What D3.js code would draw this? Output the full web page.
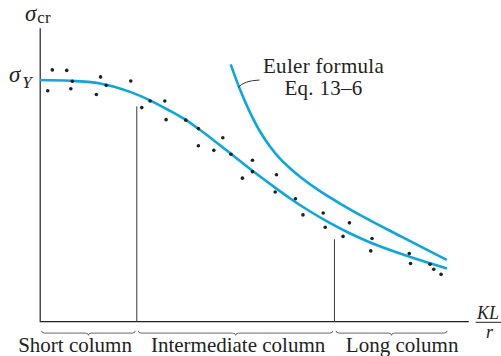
<!DOCTYPE html>
<html>
<head>
<meta charset="utf-8">
<script src="https://cdn.jsdelivr.net/npm/d3@7"></script>
<style>
  html, body { margin: 0; padding: 0; background: #fff; }
  svg { display: block; }
</style>
</head>
<body>
<svg id="chart" width="501" height="356"></svg>
<script>
// Slenderness ratio KL/r (x) and stress relative to yield σ/σY (y)
const xMax = 200;
const yMax = 1.2166;

// Test results (scatter)
const testKL = [5.75, 12.48, 3.60, 15.09, 14.39, 28.27, 30.93, 26.31, 42.38, 47.52,
  51.40, 58.27, 58.88, 68.08, 73.97, 73.97, 81.17, 85.37, 89.16, 94.53,
  99.21, 99.21, 110.42, 109.81, 119.30, 122.80, 132.24, 133.18, 144.49, 141.50,
  155.05, 154.44, 172.43, 173.04, 182.15, 183.88, 187.29];
const testStress = [1.042, 1.040, 0.956, 0.995, 0.964, 1.013, 0.978, 0.940, 0.996, 0.886,
  0.913, 0.913, 0.836, 0.834, 0.799, 0.728, 0.709, 0.761, 0.693, 0.594,
  0.668, 0.621, 0.608, 0.537, 0.509, 0.442, 0.450, 0.391, 0.409, 0.353,
  0.344, 0.293, 0.282, 0.241, 0.238, 0.217, 0.196];

// Curve fitted through the test results
const fitKL = [0, 14.02, 28.04, 42.06, 51.4, 60.75, 68.08, 74.77, 81.78, 89.11,
  98.13, 107.48, 116.82, 126.17, 135.51, 144.86, 154.21, 168.22, 190.05];
const fitStress = [1.0, 0.997, 0.986, 0.951, 0.916, 0.872, 0.835, 0.793, 0.746, 0.695,
  0.632, 0.570, 0.510, 0.456, 0.408, 0.365, 0.328, 0.282, 0.220];

// Euler formula curve
const eulerKL = [89.05, 93.39, 98.06, 102.73, 107.40, 112.07, 116.74, 121.41, 130.75, 140.09, 154.10, 168.11, 189.91];
const eulerStress = [1.065, 0.961, 0.866, 0.787, 0.725, 0.675, 0.635, 0.600, 0.540, 0.489, 0.419, 0.355, 0.256];

// Column ranges: boundaries along KL/r and the height of each divider
const regionBounds = [0, 45.2, 137.5, 190.8];
const dividerTop = [0.891, 0.341];
const regionNames = ["Short column", "Intermediate column", "Long column"];
const regionLabelAt = [16.36, 92.5, 169.1];

// Annotation for the Euler curve
const eulerLabel = ["Euler formula", "Eq. 13\u20136"];
const leaderFrom = [92.6, 0.97];
const leaderTo = [102.5, 1.0];
const eulerLabelAt = [132.4, 1.031, 0.9375];

const serif = "'Liberation Serif', 'Tinos', 'Times New Roman', 'DejaVu Serif', serif";

const svg = d3.select("#chart");
const x = d3.scaleLinear([0, xMax], [40, 468.3]);
const y = d3.scaleLinear([0, yMax], [321.7, 27.7]);

const ink = "#231f20";
const blue = "#0ba6e0";

// Axes: bare lines, no ticks
svg.append("g")
  .attr("transform", "translate(-0.3,0)translate(" + x(0) + ",0)")
  .call(d3.axisLeft(y).ticks(0).tickSizeOuter(0))
  .call(g => g.select(".domain").attr("stroke", ink).attr("stroke-width", 1.2));
svg.append("g")
  .attr("transform", "translate(0," + (y(0) - 0.5) + ")")
  .call(d3.axisBottom(x).ticks(0).tickSizeOuter(0))
  .call(g => g.select(".domain").attr("stroke", ink).attr("stroke-width", 1.2));

// Dividers between column ranges
svg.selectAll("line.divider")
  .data(dividerTop)
  .join("line")
  .attr("class", "divider")
  .attr("x1", (d, i) => x(regionBounds[i + 1]))
  .attr("x2", (d, i) => x(regionBounds[i + 1]))
  .attr("y1", y(0))
  .attr("y2", d => y(d))
  .attr("stroke", "#3a3a3a")
  .attr("stroke-width", 1);

// Braces under the axis
function brace(x0, x1, top) {
  const xm = (x0 + x1) / 2, h = 2.3, n = 2.2;
  const p = d3.path();
  p.moveTo(x0, top);
  p.quadraticCurveTo(x0, top + h, x0 + 3, top + h);
  p.lineTo(xm - 3, top + h);
  p.quadraticCurveTo(xm, top + h, xm, top + h + n);
  p.quadraticCurveTo(xm, top + h, xm + 3, top + h);
  p.lineTo(x1 - 3, top + h);
  p.quadraticCurveTo(x1, top + h, x1, top);
  return p.toString();
}
svg.selectAll("path.brace")
  .data(regionNames)
  .join("path")
  .attr("class", "brace")
  .attr("d", (d, i) => brace(x(regionBounds[i]) + 1.6, x(regionBounds[i + 1]) - 1.6, 330.8))
  .attr("fill", "none")
  .attr("stroke", "#555")
  .attr("stroke-width", 0.9);

svg.selectAll("text.region")
  .data(regionNames)
  .join("text")
  .attr("class", "region")
  .attr("x", (d, i) => x(regionLabelAt[i]))
  .attr("y", 351.5)
  .attr("text-anchor", "middle")
  .attr("font-family", serif)
  .attr("font-size", 21)
  .attr("fill", ink)
  .text(d => d);

// Curves
svg.append("path")
  .datum(d3.zip(fitKL, fitStress))
  .attr("d", d3.line().x(d => x(d[0])).y(d => y(d[1])).curve(d3.curveMonotoneX))
  .attr("fill", "none")
  .attr("stroke", blue)
  .attr("stroke-width", 2.6);
svg.append("path")
  .datum(d3.zip(eulerKL, eulerStress))
  .attr("d", d3.line().x(d => x(d[0])).y(d => y(d[1])).curve(d3.curveCatmullRom))
  .attr("fill", "none")
  .attr("stroke", blue)
  .attr("stroke-width", 2.6);

// Test points
svg.selectAll("circle.pt")
  .data(d3.zip(testKL, testStress))
  .join("circle")
  .attr("class", "pt")
  .attr("cx", d => x(d[0]))
  .attr("cy", d => y(d[1]))
  .attr("r", 1.8)
  .attr("fill", ink);

// Euler annotation
const lp = d3.path();
lp.moveTo(x(leaderFrom[0]), y(leaderFrom[1]));
lp.quadraticCurveTo(x(leaderFrom[0]) + 6, y(leaderTo[1]) + 0.5, x(leaderTo[0]), y(leaderTo[1]));
svg.append("path")
  .attr("d", lp.toString())
  .attr("fill", "none")
  .attr("stroke", ink)
  .attr("stroke-width", 0.9);
svg.selectAll("text.euler")
  .data(eulerLabel)
  .join("text")
  .attr("class", "euler")
  .attr("x", x(eulerLabelAt[0]))
  .attr("y", (d, i) => y(eulerLabelAt[i + 1]))
  .attr("text-anchor", "middle")
  .attr("font-family", serif)
  .attr("font-size", 21)
  .attr("letter-spacing", 0.3)
  .attr("fill", ink)
  .text(d => d);

// Axis titles
const sCr = svg.append("text").attr("x", 25).attr("y", 20.7)
  .attr("font-family", serif).attr("fill", ink);
sCr.append("tspan").attr("font-size", 23).attr("font-style", "italic").text("\u03c3");
sCr.append("tspan").attr("font-size", 17).attr("dx", 1).attr("dy", 2.6).text("cr");

const sY = svg.append("text").attr("x", 9).attr("y", 81.7)
  .attr("font-family", serif).attr("fill", ink);
sY.append("tspan").attr("font-size", 23).attr("font-style", "italic").text("\u03c3");
sY.append("tspan").attr("font-size", 17).attr("font-style", "italic").attr("dx", 2).attr("dy", 5.8).text("Y");

// KL / r fraction
svg.append("line")
  .attr("x1", 475.7).attr("x2", 503)
  .attr("y1", y(0) + 0.6).attr("y2", y(0) + 0.6)
  .attr("stroke", ink).attr("stroke-width", 1);
svg.append("text").attr("x", 477).attr("y", 318.5)
  .attr("font-family", serif).attr("fill", ink)
  .attr("font-size", 18).attr("font-style", "italic").text("KL");
svg.append("text").attr("x", 489.5).attr("y", 337.5)
  .attr("font-family", serif).attr("fill", ink)
  .attr("font-size", 18).attr("font-style", "italic").attr("text-anchor", "middle").text("r");
</script>
</body>
</html>
